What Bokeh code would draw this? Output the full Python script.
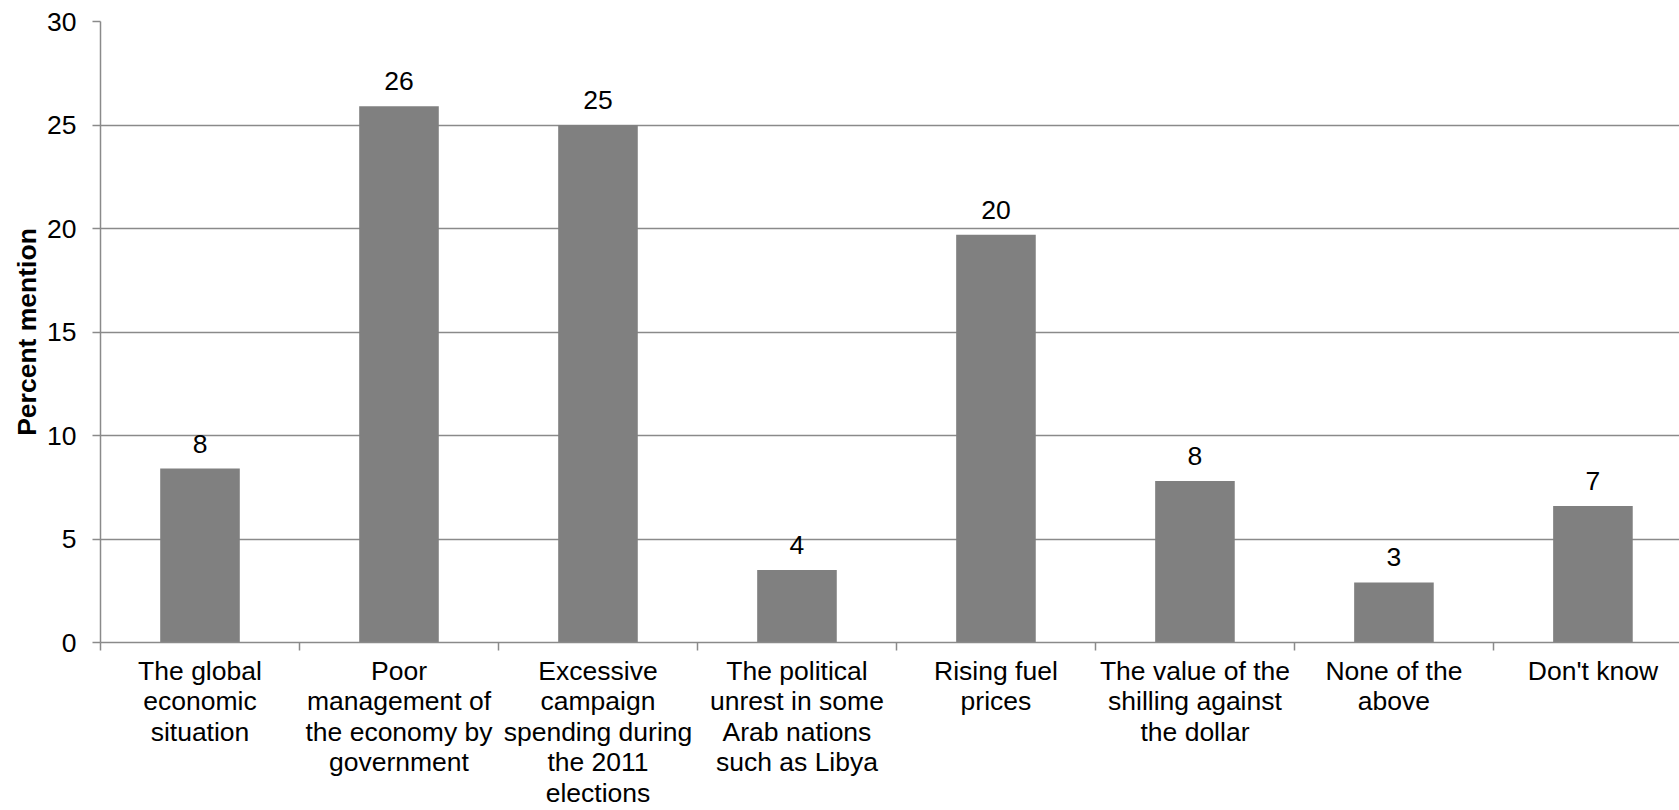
from bokeh.plotting import figure
from bokeh.models import Range1d, FixedTicker, ColumnDataSource
from bokeh.core.properties import value
from bokeh.embed import file_html
from bokeh.resources import INLINE

categories = [
    "The global\neconomic\nsituation",
    "Poor\nmanagement of\nthe economy by\ngovernment",
    "Excessive\ncampaign\nspending during\nthe 2011\nelections",
    "The political\nunrest in some\nArab nations\nsuch as Libya",
    "Rising fuel\nprices",
    "The value of the\nshilling against\nthe dollar",
    "None of the\nabove",
    "Don't know",
]
values = [8.4, 25.9, 25.0, 3.5, 19.7, 7.8, 2.9, 6.6]
y_ticks = [0, 5, 10, 15, 20, 25, 30]

FONT = "Liberation Sans"
FS = "26.5px"
GRID = "#8a8a8a"

xs = list(range(len(categories)))
labels = [f"{v:.0f}" for v in values]
src = ColumnDataSource(dict(x=xs, top=values, label=labels))

p = figure(width=1679, height=810, output_backend="svg", toolbar_location=None,
           x_range=Range1d(-0.5, 7.435), y_range=Range1d(0, 30),
           min_border_left=100, min_border_right=0, min_border_top=21,
           min_border_bottom=166)
p.outline_line_color = None
p.background_fill_color = "white"
p.border_fill_color = "white"

p.vbar(x="x", top="top", width=0.4, bottom=0, source=src,
       fill_color="#808080", line_color=None)
p.text(x="x", y="top", text="label", source=src, y_offset=-25,
       text_align="center", text_baseline="alphabetic",
       text_font=value(FONT), text_font_size=FS, text_color="black")

# y axis
p.yaxis.ticker = FixedTicker(ticks=y_ticks)
p.yaxis.axis_label = "Percent mention"
p.yaxis.axis_label_text_font = FONT
p.yaxis.axis_label_text_font_size = FS
p.yaxis.axis_label_text_font_style = "bold"
p.yaxis.axis_label_text_color = "black"
p.yaxis.axis_label_standoff = 2
p.yaxis.major_label_text_font = FONT
p.yaxis.major_label_text_font_size = FS
p.yaxis.major_label_text_color = "black"
p.yaxis.major_label_standoff = 16
p.yaxis.major_tick_out = 8
p.yaxis.major_tick_in = 0
p.yaxis.minor_tick_out = 0
p.yaxis.minor_tick_in = 0
p.yaxis.axis_line_color = GRID
p.yaxis.axis_line_width = 1.5
p.yaxis.major_tick_line_color = GRID
p.yaxis.major_tick_line_width = 1.5

# x axis
p.xaxis.ticker = FixedTicker(ticks=xs, minor_ticks=[i - 0.5 for i in xs] + [7.5])
p.xaxis.major_label_overrides = {i: c for i, c in zip(xs, categories)}
p.xaxis.major_label_text_font = FONT
p.xaxis.major_label_text_font_size = FS
p.xaxis.major_label_text_color = "black"
p.xaxis.major_label_text_line_height = 1.02
p.xaxis.major_label_standoff = 5
p.xaxis.major_tick_out = 0
p.xaxis.major_tick_in = 0
p.xaxis.minor_tick_out = 8
p.xaxis.minor_tick_in = 0
p.xaxis.minor_tick_line_color = GRID
p.xaxis.minor_tick_line_width = 1.5
p.xaxis.axis_line_color = GRID
p.xaxis.axis_line_width = 1.5

p.xgrid.grid_line_color = None
p.ygrid.grid_line_color = GRID
p.ygrid.grid_line_width = 1.5

open("out.html", "w").write(file_html(p, INLINE))
